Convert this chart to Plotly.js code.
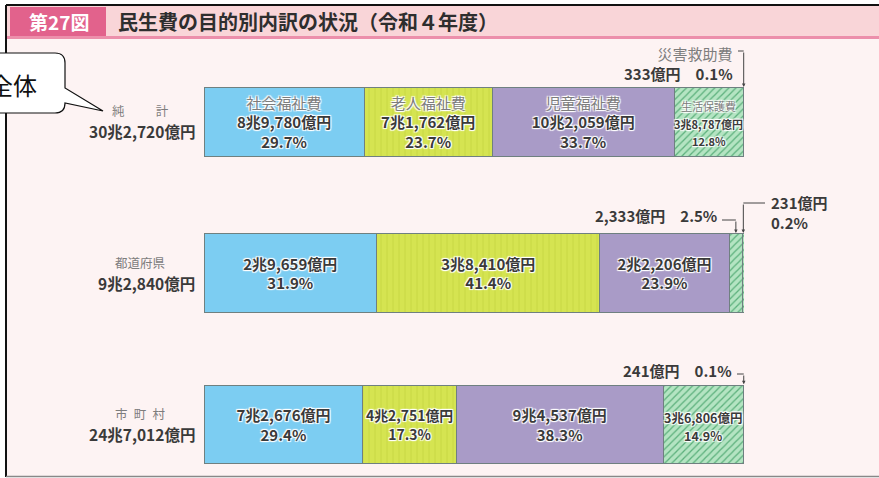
<!DOCTYPE html>
<html><head><meta charset="utf-8">
<script src="https://cdn.plot.ly/plotly-3.0.1.min.js"></script>
<style>html,body{margin:0;padding:0;background:#fff;}#chart{width:879px;height:478px;}</style>
</head><body><div id="chart"></div>
<script>
// ---- data ----
const rowLabels = ['純　　\u2002計', '都道府県', '市\u2002町\u2002村'];
const rowTotals = [302720, 92840, 247012];           // 億円
const categories = ['社会福祉費', '老人福祉費', '児童福祉費', '生活保護費', '災害救助費'];
const shakai   = [89780, 29659, 72676];
const roujin   = [71762, 38410, 42751];
const jidou    = [102059, 22206, 94537];
const seikatsu = [38787, 2333, 36806];
const saigai   = [333, 231, 241];
const pctShakai   = [29.7, 31.9, 29.4];
const pctRoujin   = [23.7, 41.4, 17.3];
const pctJidou    = [33.7, 23.9, 38.3];
const pctSeikatsu = [12.8, 2.5, 14.9];
const pctSaigai   = [0.1, 0.2, 0.1];

const amounts = [shakai, roujin, jidou, seikatsu, saigai];
const pcts = [pctShakai, pctRoujin, pctJidou, pctSeikatsu, pctSaigai];

// ---- layout geometry ----
const W = 879, H = 478, L = 204, R = 135, T = 40, B = 8;
const PW = W - L - R, PH = H - T - B;
const yTop = -0.542, yBot = 2.301;
const unit = PH / (yBot - yTop);
const barWidths = [0.45, 0.52, 0.52];
const px = v => (v - L) / PW;
const py = v => 1 - (v - T) / PH;
const rowCenterPx = i => T + (i - yTop) * unit;
const barTopPx = i => rowCenterPx(i) - barWidths[i] * unit / 2;

const FONT = 'Noto Sans CJK JP, Noto Sans, sans-serif';
const DARK = '#3a3a3a';
const GREY = '#7d7d7d';
const HALO = '1px 1px 1px #fff, -1px -1px 1px #fff, 1px -1px 1px #fff, -1px 1px 1px #fff';

function fmt(v) {
  const cho = Math.floor(v / 10000), oku = v % 10000;
  return (cho ? cho + '兆' : '') + oku.toLocaleString('en-US') + '億円';
}
const rowSum = r => amounts.reduce((s, a) => s + a[r], 0);
const cumBefore = (r, c) => amounts.slice(0, c).reduce((s, a) => s + a[r], 0);
const segCenterPct = (r, c) => (cumBefore(r, c) + amounts[c][r] / 2) / rowSum(r) * 100;
const segCenterPx = (r, c) => L + segCenterPct(r, c) / 100 * PW;

const styles = [
  {color: '#7ccdf2', pattern: {shape: ''}},
  {color: '#d3e24f', pattern: {shape: '|', bgcolor: '#d5e451', fgcolor: '#c6d742', size: 6, solidity: 0.15}},
  {color: '#a99bc7', pattern: {shape: ''}},
  {color: '#a5dcb5', pattern: {shape: '/', bgcolor: '#b4e4c2', fgcolor: '#5cb07c', size: 5, solidity: 0.25}},
  {color: '#a5dcb5', pattern: {shape: '/', bgcolor: '#b4e4c2', fgcolor: '#5cb07c', size: 5, solidity: 0.25}}
];

const labelText = (c, r) => {
  const body = fmt(amounts[c][r]) + '<br>' + pcts[c][r].toFixed(1) + '%';
  return r === 0 ? '<span style="color:' + GREY + ';font-weight:normal">' + categories[c] + '</span><br>' + body : body;
};
// segment kinds: wide (bar text), narrow (compact labels inside), thin (label outside with bracket)
const kind = (c, r) => pcts[c][r] < 5 ? 'thin' : (pcts[c][r] < 16 ? 'narrow' : 'wide');

const traces = categories.map((cat, c) => ({
  type: 'bar', orientation: 'h', name: cat,
  x: amounts[c], y: [0, 1, 2], width: barWidths,
  text: amounts[c].map((v, r) => kind(c, r) === 'wide' ? labelText(c, r) : ''),
  texttemplate: '%{text}', textposition: 'inside', insidetextanchor: 'middle', textangle: 0,
  textfont: {family: FONT, size: 15, color: DARK, weight: 'bold', shadow: HALO},
  marker: {color: styles[c].color, pattern: styles[c].pattern, line: {color: '#6f8080', width: 1}},
  hoverinfo: 'skip', showlegend: false
}));

const annotations = [];
const shapes = [];

// narrow segments: compact labels, one annotation per line
categories.forEach((cat, c) => amounts[c].forEach((v, r) => {
  if (kind(c, r) !== 'narrow') return;
  const lines = (r === 0 ? [{t: cat, name: true}] : []).concat([{t: fmt(v)}, {t: pcts[c][r].toFixed(1) + '%'}]);
  const n = lines.length, sp = 17.5;
  lines.forEach((ln, i) => {
    annotations.push({xref: 'paper', yref: 'paper', x: px(segCenterPx(r, c)), y: py(rowCenterPx(r) + 2 + (i - (n - 1) / 2) * sp),
      xanchor: 'center', yanchor: 'middle', showarrow: false, borderpad: 0, text: ln.t,
      font: {family: FONT, size: r === 0 ? 11 : 12.5, color: ln.name ? GREY : DARK, weight: ln.name ? 'normal' : 'bold', shadow: HALO}});
  });
}));

// ---- outside labels for thin segments ----
const outside = [
  {r: 0, c: 4, side: 'left',  textX: 735, textY: 63.5, lineY: 51,  withName: true},
  {r: 1, c: 3, side: 'left',  textX: 719, textY: 215,  lineY: 220},
  {r: 1, c: 4, side: 'right', textX: 769, textY: 212,  lineY: 203},
  {r: 2, c: 4, side: 'left',  textX: 734, textY: 370,  lineY: 374}
];

// frame & title bar
shapes.push({type: 'rect', xref: 'paper', yref: 'paper', layer: 'below', x0: px(7), x1: px(880), y0: py(5), y1: py(477), fillcolor: '#fdf3f3', line: {width: 0}});
shapes.push({type: 'rect', xref: 'paper', yref: 'paper', layer: 'below', x0: px(7), x1: px(880), y0: py(5), y1: py(36), fillcolor: '#f9d5d8', line: {width: 0}});
shapes.push({type: 'line', xref: 'paper', yref: 'paper', layer: 'below', x0: px(7), x1: px(880), y0: py(37.5), y1: py(37.5), line: {color: '#ec8fab', width: 3}});
shapes.push({type: 'rect', xref: 'paper', yref: 'paper', layer: 'below', x0: px(10), x1: px(106), y0: py(7), y1: py(36), fillcolor: '#e2628c', line: {width: 0}});
shapes.push({type: 'line', xref: 'paper', yref: 'paper', x0: px(6), x1: px(880), y0: py(5), y1: py(5), line: {color: '#111', width: 2}});
shapes.push({type: 'line', xref: 'paper', yref: 'paper', x0: px(6), x1: px(6), y0: py(5), y1: py(477), line: {color: '#111', width: 2}});
shapes.push({type: 'line', xref: 'paper', yref: 'paper', x0: px(6), x1: px(880), y0: py(476.5), y1: py(476.5), line: {color: '#888', width: 1.5}});

annotations.push({xref: 'paper', yref: 'paper', x: px(59), y: py(21.5), xanchor: 'center', yanchor: 'middle', showarrow: false,
  text: '第27図', font: {family: FONT, size: 19, color: '#fff', weight: 'bold'}});
annotations.push({xref: 'paper', yref: 'paper', x: px(116), y: py(21.5), xanchor: 'left', yanchor: 'middle', showarrow: false,
  text: '民生費の目的別内訳の状況（令和４年度）', font: {family: FONT, size: 20, color: '#2e2e2e', weight: 'bold'}});

// row labels: name line + total line
rowLabels.forEach((lab, r) => {
  annotations.push({xref: 'paper', yref: 'paper', x: px(140), y: py(rowCenterPx(r) - 11), xanchor: 'center', yanchor: 'middle', showarrow: false, borderpad: 0,
    text: lab, font: {family: FONT, size: 12.5, color: GREY}});
  annotations.push({xref: 'paper', yref: 'paper', x: px(196), y: py(rowCenterPx(r) + 9.5), xanchor: 'right', yanchor: 'middle', showarrow: false, borderpad: 0,
    text: fmt(rowTotals[r]), font: {family: FONT, size: 15.5, color: DARK, weight: 'bold'}});
});

// outside labels with brackets
outside.forEach(o => {
  const v = amounts[o.c][o.r], p = pcts[o.c][o.r].toFixed(1) + '%';
  let txt;
  if (o.side === 'right') txt = fmt(v) + '<br>' + p;
  else txt = fmt(v) + '　' + p;
  if (o.withName) txt = '<span style="color:' + GREY + ';font-weight:normal">' + categories[o.c] + '</span><br>' + txt;
  annotations.push({xref: 'paper', yref: 'paper', x: px(o.textX), y: py(o.textY), xanchor: o.side === 'left' ? 'right' : 'left',
    yanchor: 'middle', align: o.side === 'left' ? 'right' : 'left', showarrow: false, text: txt,
    font: {family: FONT, size: 15, color: DARK, weight: 'bold'}});
  const sx = segCenterPx(o.r, o.c);
  const startX = o.side === 'left' ? o.textX + 3 : o.textX - 4;
  shapes.push({type: 'line', xref: 'paper', yref: 'paper', x0: px(startX), x1: px(sx), y0: py(o.lineY), y1: py(o.lineY), line: {color: '#444', width: 1}});
  const top = barTopPx(o.r);
  annotations.push({xref: 'paper', yref: 'paper', x: px(sx), y: py(top - 1), ax: 0, ay: -(top - 1 - o.lineY), axref: 'pixel', ayref: 'pixel',
    text: '', showarrow: true, arrowhead: 2, arrowsize: 0.7, arrowwidth: 1, arrowcolor: '#444', standoff: 0, startstandoff: 0});
});

// callout bubble "全体"
const d = 'M ' + px(-10) + ',' + py(53) + ' L ' + px(55) + ',' + py(53) +
  ' Q ' + px(65) + ',' + py(53) + ' ' + px(65) + ',' + py(63) +
  ' L ' + px(65) + ',' + py(88) + ' L ' + px(103) + ',' + py(111) + ' L ' + px(65) + ',' + py(103) +
  ' Q ' + px(65) + ',' + py(113) + ' ' + px(55) + ',' + py(113) +
  ' L ' + px(-10) + ',' + py(113) + ' Z';
shapes.push({type: 'path', xref: 'paper', yref: 'paper', path: d, fillcolor: '#fff', line: {color: '#111', width: 1.2}});
annotations.push({xref: 'paper', yref: 'paper', x: px(13), y: py(85), xanchor: 'center', yanchor: 'middle', showarrow: false,
  text: '全体', font: {family: FONT, size: 24, color: '#111'}});

const layout = {
  width: W, height: H, margin: {l: L, r: R, t: T, b: B, pad: 0},
  paper_bgcolor: '#ffffff', plot_bgcolor: 'rgba(0,0,0,0)',
  barmode: 'stack', barnorm: 'percent', showlegend: false,
  xaxis: {range: [0, 100], visible: false, fixedrange: true},
  yaxis: {range: [yBot, yTop], visible: false, fixedrange: true},
  font: {family: FONT},
  shapes: shapes, annotations: annotations
};
Plotly.newPlot('chart', traces, layout, {displayModeBar: false, staticPlot: true});
</script></body></html>
